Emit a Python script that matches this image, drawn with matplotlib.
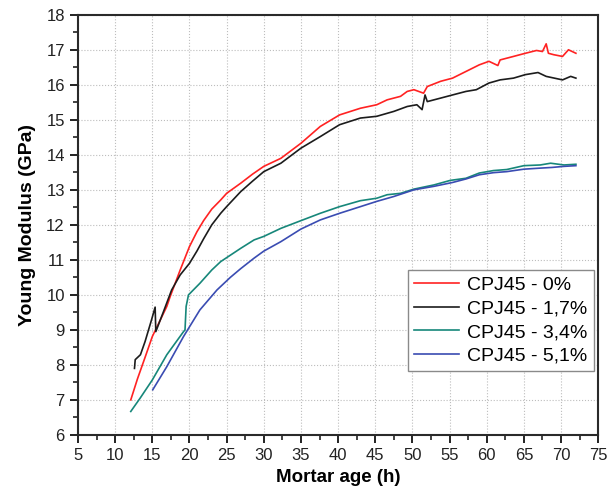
import matplotlib
matplotlib.use("Agg")
import matplotlib.pyplot as plt
from matplotlib.ticker import MultipleLocator

plt.rcParams['font.family'] = ['Liberation Sans', 'DejaVu Sans']

# values
age_0 = [12.1, 13.0, 14.0, 15.0, 16.0, 16.95, 17.4, 18.75, 20.0, 21.0, 21.9, 23.0, 24.2,
         25.0, 26.9, 28.5, 30.0, 32.3, 35.0, 37.6, 40.2, 43.0, 45.2, 46.6, 48.4, 49.3,
         50.2, 51.5, 52.0, 53.8, 55.4, 57.2, 59.0, 60.3, 61.5, 61.8, 63.6, 65.2, 66.7,
         67.5, 68.0, 68.3, 69.0, 70.2, 71.0, 72.0]
ym_0 = [7.0, 7.6, 8.2, 8.81, 9.25, 9.67, 9.95, 10.71, 11.38, 11.8, 12.12, 12.45, 12.71,
        12.9, 13.19, 13.45, 13.67, 13.9, 14.33, 14.81, 15.14, 15.33, 15.43, 15.57, 15.67,
        15.81, 15.86, 15.76, 15.95, 16.1, 16.19, 16.38, 16.57, 16.67, 16.55, 16.71, 16.81,
        16.9, 16.98, 16.95, 17.17, 16.9, 16.86, 16.81, 17.0, 16.9]

age_17 = [12.6, 12.7, 13.4, 14.03, 14.9, 15.38, 15.47, 16.5, 17.6, 18.75, 20.0, 21.0,
          21.9, 23.0, 24.2, 25.0, 26.9, 28.5, 30.0, 32.3, 35.0, 37.6, 40.2, 43.0, 45.2,
          47.5, 49.3, 50.6, 51.3, 51.7, 52.0, 53.8, 55.4, 57.2, 58.6, 60.3, 61.8, 63.6,
          65.2, 66.9, 68.0, 69.1, 70.2, 71.3, 72.0]
ym_17 = [7.9, 8.15, 8.29, 8.67, 9.29, 9.65, 8.95, 9.52, 10.14, 10.57, 10.9, 11.25,
         11.6, 12.0, 12.33, 12.52, 12.95, 13.25, 13.52, 13.76, 14.19, 14.52, 14.86, 15.05,
         15.1, 15.24, 15.38, 15.43, 15.29, 15.71, 15.52, 15.62, 15.71, 15.81, 15.86, 16.05,
         16.14, 16.19, 16.29, 16.35, 16.24, 16.19, 16.14, 16.24, 16.19]

age_34 = [12.1, 13.36, 15.0, 16.95, 19.2, 19.4, 19.55, 19.87, 21.4, 23.0, 24.2, 26.9,
          28.7, 30.0, 32.3, 35.0, 37.6, 40.2, 43.0, 45.2, 46.6, 48.4, 50.2, 52.9, 55.1,
          57.2, 59.0, 60.9, 62.7, 65.0, 67.2, 68.6, 70.4, 72.0]
ym_34 = [6.67, 7.05, 7.57, 8.29, 8.95, 9.0, 9.67, 10.0, 10.33, 10.71, 10.95, 11.33,
         11.57, 11.67, 11.9, 12.12, 12.33, 12.52, 12.69, 12.76, 12.86, 12.9, 13.02, 13.14,
         13.27, 13.33, 13.48, 13.55, 13.58, 13.69, 13.71, 13.76, 13.71, 13.73]

age_51 = [15.06, 16.95, 19.2, 21.4, 23.7, 25.5, 26.9, 28.7, 30.0, 32.3, 35.0, 37.6,
          40.2, 43.0, 45.2, 47.5, 50.2, 52.9, 55.4, 57.2, 59.0, 60.9, 62.7, 65.0, 67.2,
          68.8, 70.4, 72.0]
ym_51 = [7.29, 7.95, 8.81, 9.57, 10.14, 10.5, 10.75, 11.05, 11.25, 11.52, 11.88, 12.14,
         12.33, 12.52, 12.67, 12.81, 13.0, 13.1, 13.21, 13.31, 13.43, 13.49, 13.52, 13.59,
         13.62, 13.64, 13.67, 13.69]

labels = ['CPJ45 - 0%', 'CPJ45 - 1,7%', 'CPJ45 - 3,4%', 'CPJ45 - 5,1%']
colors = ['#ff2222', '#1c1c1c', '#17877a', '#3a4cb2']

fig = plt.figure(figsize=(6.07, 4.92), dpi=100)
ax = fig.add_axes([0.1285, 0.116, 0.857, 0.854])

series = [(age_0, ym_0), (age_17, ym_17), (age_34, ym_34), (age_51, ym_51)]
for (x, y), lab, c in zip(series, labels, colors):
    ax.plot(x, y, color=c, lw=1.2, label=lab)

ax.set_xlim(5, 75)
ax.set_ylim(6, 18)
ax.xaxis.set_major_locator(MultipleLocator(5))
ax.xaxis.set_minor_locator(MultipleLocator(2.5))
ax.yaxis.set_major_locator(MultipleLocator(1))
ax.yaxis.set_minor_locator(MultipleLocator(0.5))
ax.tick_params(which='major', direction='out', length=6, width=1.4, labelsize=12,
               colors='#222222')
ax.tick_params(which='minor', direction='out', length=3.5, width=1.2, colors='#222222')
ax.tick_params(top=False, right=False, which='both')
ax.grid(True, which='major', ls=':', lw=0.8, color='#bdbdbd')
for s in ax.spines.values():
    s.set_linewidth(1.5)
    s.set_color('#2a2a2a')

ax.set_xlabel('Mortar age (h)', fontsize=13.5, fontweight='bold', labelpad=4)
ax.set_ylabel('Young Modulus (GPa)', fontsize=14, fontweight='bold', labelpad=7)

leg = ax.legend(loc='upper right', bbox_to_anchor=(0.992, 0.393), fontsize=14,
                fancybox=False, framealpha=1, edgecolor='#8a8a8a', handlelength=2.3,
                borderpad=0.35, labelspacing=0.3, handletextpad=0.4, borderaxespad=0)
leg.get_frame().set_linewidth(1.0)

fig.savefig('out.png', dpi=100)
